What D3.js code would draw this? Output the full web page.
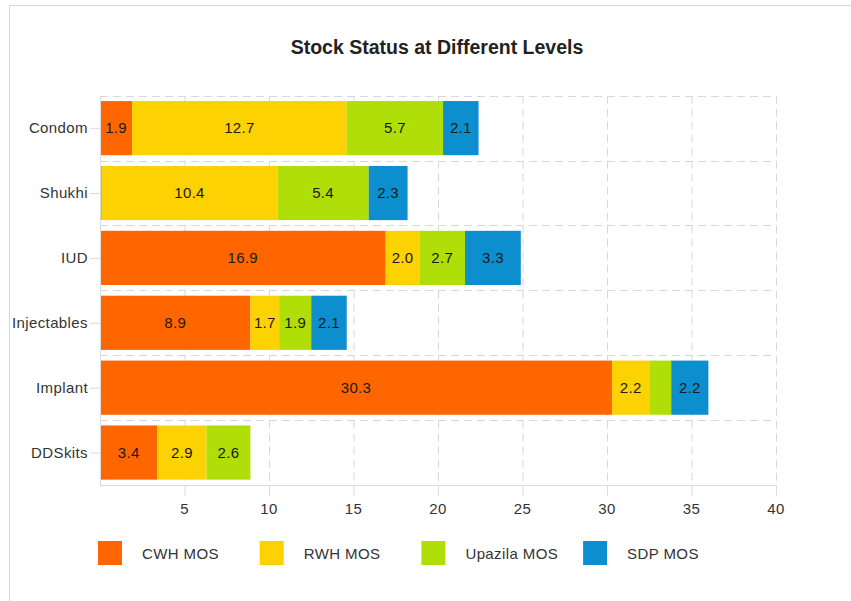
<!DOCTYPE html>
<html>
<head>
<meta charset="utf-8">
<script src="https://cdn.jsdelivr.net/npm/d3@7"></script>
<style>
  body { margin: 0; background: #fff; }
  svg { display: block; font-family: "Liberation Sans", Arial, sans-serif; }
  .grid line { stroke: #d8d8d8; stroke-dasharray: 8,5; }
  .axis-line { stroke: #dcdcdc; }
  .tick-label { fill: #333; font-size: 15px; letter-spacing: 0.4px; }
  .bar-label { fill: #1a1a1a; font-size: 15px; letter-spacing: 0.3px; }
</style>
</head>
<body>
<div id="chart"></div>
<script>
const categories = ["Condom", "Shukhi", "IUD", "Injectables", "Implant", "DDSkits"];
const seriesNames = ["CWH MOS", "RWH MOS", "Upazila MOS", "SDP MOS"];
const cwhMos = [1.9, 0.1, 16.9, 8.9, 30.3, 3.4];
const rwhMos = [12.7, 10.4, 2.0, 1.7, 2.2, 2.9];
const upazilaMos = [5.7, 5.4, 2.7, 1.9, 1.3, 2.6];
const sdpMos = [2.1, 2.3, 3.3, 2.1, 2.2, 0];
const xTicks = [5, 10, 15, 20, 25, 30, 35, 40];
const colors = ["#FF6600", "#FCD202", "#B0DE09", "#0D8ECF"];

const width = 851, height = 601;
const margin = { top: 95.7, right: 75, bottom: 116, left: 100 };

const svg = d3.select("#chart").append("svg")
    .attr("width", width)
    .attr("height", height);

// outer frame (right and bottom edges fall outside the picture)
svg.append("rect")
    .attr("x", 9.5).attr("y", 5.5)
    .attr("width", 900).attr("height", 700)
    .attr("fill", "none").attr("stroke", "#d6d6d6");

svg.append("text")
    .attr("x", 437).attr("y", 54)
    .attr("text-anchor", "middle")
    .attr("font-size", 19.5)
    .attr("font-weight", "bold")
    .attr("fill", "#222")
    .text("Stock Status at Different Levels");

const x = d3.scaleLinear().domain([0, 40]).range([margin.left, 776]);
const y = d3.scaleBand().domain(categories)
    .range([margin.top, 485])
    .paddingInner(0.165).paddingOuter(0.0825);

const rows = categories.map((c, i) => ({
    cat: c, s0: cwhMos[i], s1: rwhMos[i], s2: upazilaMos[i], s3: sdpMos[i]
}));
const stacked = d3.stack().keys(["s0", "s1", "s2", "s3"])(rows);

// grid
const grid = svg.append("g").attr("class", "grid");
grid.selectAll(".vg").data(xTicks).enter().append("line")
    .attr("x1", d => x(d) + 0.5).attr("x2", d => x(d) + 0.5)
    .attr("y1", margin.top).attr("y2", 485);
const step = y.step();
grid.selectAll(".hg").data(d3.range(categories.length))
    .enter().append("line")
    .attr("x1", x(0)).attr("x2", x(40))
    .attr("y1", d => Math.round(margin.top + d * step) + 0.5)
    .attr("y2", d => Math.round(margin.top + d * step) + 0.5);

// bars
const layers = svg.append("g").selectAll("g").data(stacked).enter().append("g")
    .attr("fill", (d, i) => colors[i]);

layers.selectAll("rect").data(d => d).enter().append("rect")
    .attr("x", d => x(d[0]))
    .attr("y", d => y(d.data.cat))
    .attr("width", d => Math.max(0, x(d[1]) - x(d[0])))
    .attr("height", y.bandwidth());

const fmt = d3.format(".1f");
layers.each(function () {
    d3.select(this).selectAll("text").data(d => d.filter(s => s[1] - s[0] > 0)).enter()
        .append("text")
        .attr("class", "bar-label")
        .attr("x", d => (x(d[0]) + x(d[1])) / 2)
        .attr("y", d => y(d.data.cat) + y.bandwidth() / 2 + 5)
        .attr("text-anchor", "middle")
        .text(d => fmt(d[1] - d[0]))
        .each(function (d) {
            if (this.getComputedTextLength() + 2 > x(d[1]) - x(d[0])) d3.select(this).remove();
        });
});

// axes
svg.append("line").attr("class", "axis-line")
    .attr("x1", x(0)).attr("x2", x(40)).attr("y1", 485.5).attr("y2", 485.5);
svg.append("line").attr("class", "axis-line")
    .attr("x1", x(0) + 0.5).attr("x2", x(0) + 0.5).attr("y1", margin.top).attr("y2", 485.5);

svg.selectAll(".xtick").data(xTicks).enter().append("line").attr("class", "axis-line")
    .attr("x1", d => x(d) + 0.5).attr("x2", d => x(d) + 0.5)
    .attr("y1", 485).attr("y2", 496);
svg.selectAll(".xlab").data(xTicks).enter().append("text").attr("class", "tick-label")
    .attr("x", d => x(d)).attr("y", 514)
    .attr("text-anchor", "middle")
    .text(d => d);

svg.selectAll(".ytick").data(categories).enter().append("line").attr("class", "axis-line")
    .attr("x1", 90).attr("x2", x(0))
    .attr("y1", d => y(d) + y.bandwidth() / 2 + 0.5)
    .attr("y2", d => y(d) + y.bandwidth() / 2 + 0.5);
svg.selectAll(".ylab").data(categories).enter().append("text").attr("class", "tick-label")
    .attr("x", 88).attr("y", d => y(d) + y.bandwidth() / 2 + 5)
    .attr("text-anchor", "end")
    .text(d => d);

// legend
const legend = svg.append("g").selectAll("g").data(seriesNames).enter().append("g")
    .attr("transform", (d, i) => `translate(${98 + i * 161.7},541)`);
legend.append("rect").attr("width", 24).attr("height", 24)
    .attr("fill", (d, i) => colors[i]);
legend.append("text").attr("class", "tick-label")
    .attr("x", 44).attr("y", 18)
    .text(d => d);
</script>
</body>
</html>
